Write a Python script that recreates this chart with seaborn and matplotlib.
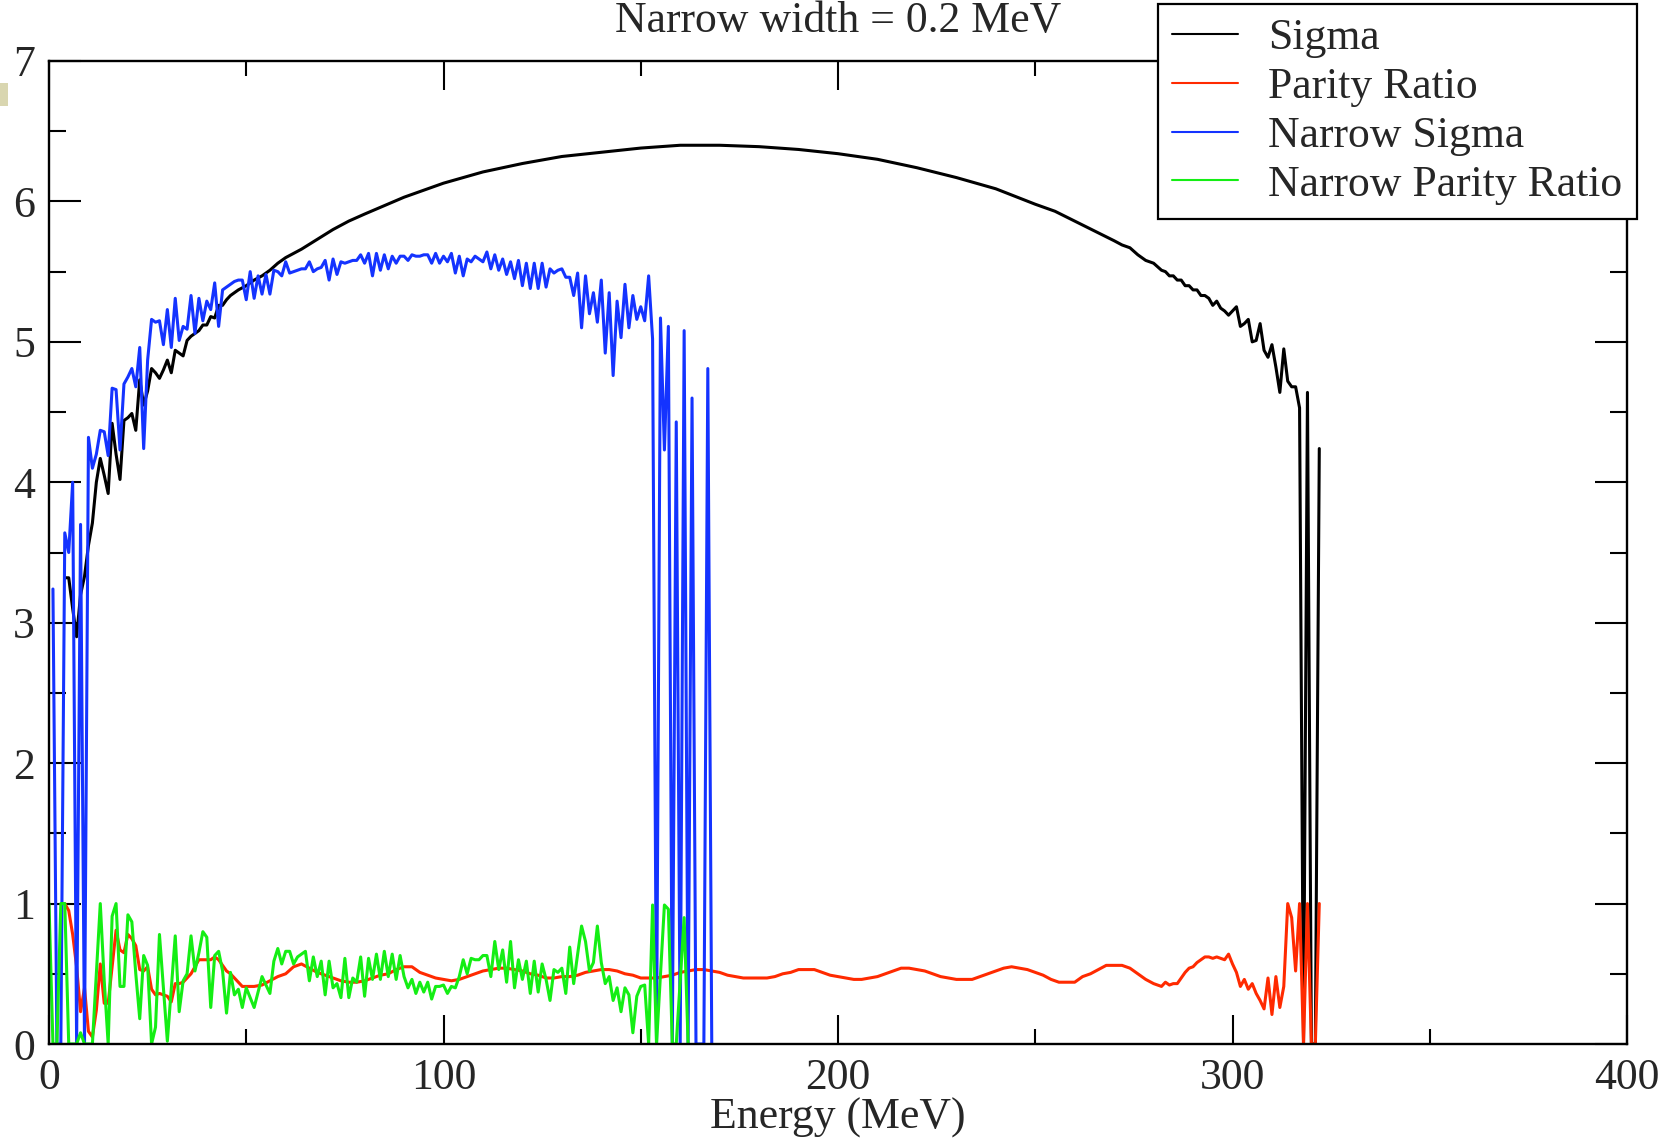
import numpy as np
import pandas as pd
import seaborn as sns
import matplotlib.pyplot as plt
from matplotlib.ticker import MultipleLocator
from matplotlib.patches import Rectangle

# ---- data (energy in MeV) ----
sigma_e = [4, 5, 6, 7, 8, 9, 10, 11, 12, 13, 14, 15, 16, 17, 18, 19, 20, 21, 22, 23,
           24, 25, 26, 27, 28, 29, 30, 31, 32, 33, 34, 35, 36, 37, 38, 39, 40, 41, 42, 43,
           44, 45, 46, 47, 48, 50, 52, 54, 56, 58, 60, 64, 68, 72, 76, 80, 85, 90, 95, 100,
           110, 120, 130, 140, 150, 160, 170, 180, 190, 200, 210, 220, 230, 240, 250, 255,
           260, 265, 270, 272, 274, 276, 278, 280, 282, 283, 284, 285, 286, 287, 288, 289,
           290, 291, 292, 293, 294, 295, 296, 297, 298, 299, 300, 301, 302, 303, 304, 305,
           306, 307, 308, 309, 310, 311, 312, 313, 314, 315, 316, 317, 318, 319, 320, 321, 322]
sigma_v = [3.32, 3.32, 3.10, 2.90, 3.20, 3.33, 3.55, 3.71, 4.00, 4.17, 4.05, 3.92, 4.42, 4.20,
           4.02, 4.44, 4.46, 4.49, 4.37, 4.73, 4.55, 4.65, 4.81, 4.78, 4.74, 4.80, 4.87, 4.78,
           4.94, 4.92, 4.90, 5.01, 5.04, 5.06, 5.08, 5.12, 5.12, 5.18, 5.17, 5.26, 5.26, 5.30,
           5.33, 5.35, 5.37, 5.40, 5.44, 5.47, 5.51, 5.56, 5.60, 5.66, 5.73, 5.80, 5.86, 5.91,
           5.97, 6.03, 6.08, 6.13, 6.21, 6.27, 6.32, 6.35, 6.38, 6.40, 6.40, 6.39, 6.37, 6.34,
           6.30, 6.24, 6.17, 6.09, 5.98, 5.93, 5.86, 5.79, 5.72, 5.69, 5.67, 5.62, 5.58, 5.56,
           5.51, 5.50, 5.47, 5.47, 5.44, 5.44, 5.40, 5.40, 5.37, 5.37, 5.33, 5.33, 5.31, 5.26,
           5.29, 5.24, 5.22, 5.19, 5.22, 5.25, 5.11, 5.13, 5.16, 5.00, 5.01, 5.13, 4.94, 4.89,
           4.98, 4.82, 4.64, 4.95, 4.72, 4.68, 4.68, 4.53, 0.0, 4.64, 0.0, 0.0, 4.24]

parity_e = list(range(4, 50)) + list(range(50, 281, 2)) + list(range(281, 323))
parity_v = [1.0, 0.95, 0.78, 0.55, 0.23, 0.4,
            0.09, 0.05, 0.24, 0.57, 0.29, 0.29, 0.55, 0.81, 0.67, 0.65,
            0.78, 0.75, 0.70, 0.53, 0.52, 0.55, 0.39, 0.35, 0.36, 0.35,
            0.34, 0.30, 0.43, 0.43, 0.44, 0.47, 0.50, 0.55, 0.60, 0.60,
            0.60, 0.60, 0.62, 0.60, 0.56, 0.52, 0.50, 0.47, 0.44, 0.41,
            # 50 .. 280 every 2 MeV
            0.41, 0.41, 0.42, 0.45, 0.48, 0.50, 0.55, 0.57, 0.54, 0.51,
            0.49, 0.47, 0.45, 0.44, 0.44, 0.45, 0.47, 0.49, 0.50, 0.53,
            0.55, 0.55, 0.51, 0.49, 0.47, 0.46, 0.45, 0.46, 0.48, 0.50,
            0.52, 0.53, 0.54, 0.54, 0.53, 0.52, 0.50, 0.49, 0.47, 0.47,
            0.48, 0.48, 0.49, 0.51, 0.52, 0.53, 0.53, 0.52, 0.50, 0.49,
            0.47, 0.47, 0.47, 0.48, 0.49, 0.51, 0.52, 0.53, 0.53, 0.52,
            0.51, 0.49, 0.48, 0.47, 0.47, 0.47, 0.47, 0.48, 0.50, 0.51,
            0.53, 0.53, 0.53, 0.51, 0.49, 0.48, 0.47, 0.46, 0.46, 0.47,
            0.48, 0.50, 0.52, 0.54, 0.54, 0.53, 0.52, 0.50, 0.48, 0.47,
            0.46, 0.46, 0.46, 0.48, 0.50, 0.52, 0.54, 0.55, 0.54, 0.53,
            0.51, 0.49, 0.46, 0.44, 0.44, 0.44, 0.48, 0.50, 0.53, 0.56,
            0.56, 0.56, 0.54, 0.50, 0.46, 0.43,
            # 281 .. 322
            0.42, 0.41, 0.44, 0.42, 0.43, 0.43, 0.47, 0.51, 0.54, 0.55,
            0.58, 0.60, 0.62, 0.62, 0.61, 0.62, 0.61, 0.60, 0.64, 0.57,
            0.51, 0.41, 0.46, 0.39, 0.43, 0.36, 0.31, 0.25, 0.47, 0.21,
            0.48, 0.26, 0.41, 1.00, 0.90, 0.52, 1.00, 0.0, 1.00, 0.0,
            0.0, 1.00]

narrow_sigma_e = list(range(1, 169))
narrow_sigma_v = [3.24, 0.0, 0.0, 3.64, 3.5, 4.0, 0.0, 3.7, 0.0, 4.32,
                  4.1, 4.2, 4.37, 4.36, 4.19, 4.67, 4.66, 4.23, 4.7, 4.75,
                  4.81, 4.68, 4.96, 4.24, 4.87, 5.16, 5.14, 5.15, 4.98, 5.23,
                  4.96, 5.31, 5.01, 5.11, 5.09, 5.33, 5.06, 5.31, 5.15, 5.29,
                  5.23, 5.42, 5.11, 5.37, 5.39, 5.41, 5.43, 5.44, 5.44, 5.3,
                  5.5, 5.31, 5.47, 5.34, 5.48, 5.34, 5.51, 5.5, 5.47, 5.57,
                  5.49, 5.5, 5.51, 5.52, 5.52, 5.57, 5.5, 5.52, 5.53, 5.58,
                  5.44, 5.59, 5.48, 5.57, 5.56, 5.57, 5.58, 5.58, 5.62, 5.56,
                  5.63, 5.47, 5.63, 5.51, 5.62, 5.52, 5.61, 5.56, 5.61, 5.61,
                  5.58, 5.62, 5.61, 5.61, 5.62, 5.62, 5.56, 5.63, 5.56, 5.61,
                  5.57, 5.63, 5.49, 5.61, 5.47, 5.59, 5.57, 5.61, 5.59, 5.57,
                  5.64, 5.52, 5.62, 5.51, 5.59, 5.48, 5.57, 5.45, 5.58, 5.4,
                  5.56, 5.38, 5.56, 5.38, 5.56, 5.39, 5.52, 5.49, 5.51, 5.52,
                  5.46, 5.46, 5.33, 5.49, 5.1, 5.47, 5.2, 5.35, 5.14, 5.44,
                  4.92, 5.35, 4.76, 5.29, 5.03, 5.41, 5.1, 5.33, 5.16, 5.25,
                  5.15, 5.47, 5.02, 0.0, 5.17, 4.23, 5.11, 0.0, 4.43, 0.0,
                  5.08, 0.0, 4.6, 0.0, 0.0, 0.0, 4.81, 0.0]

narrow_parity_e = list(range(0, 163))
narrow_parity_v = [1.0, 0.0, 0.0, 1.0, 1.0, 0.0, 0.0, 0.0, 0.08, 0.0,
                   0.0, 0.0, 0.5, 1.0, 0.45, 0.0, 0.91, 1.0, 0.41, 0.41,
                   0.92, 0.87, 0.5, 0.18, 0.63, 0.56, 0.0, 0.12, 0.78, 0.4,
                   0.02, 0.4, 0.77, 0.23, 0.45, 0.5, 0.77, 0.52, 0.65, 0.8,
                   0.76, 0.26, 0.63, 0.66, 0.52, 0.22, 0.51, 0.35, 0.39, 0.26,
                   0.4, 0.33, 0.26, 0.37, 0.48, 0.42, 0.36, 0.59, 0.68, 0.57,
                   0.66, 0.66, 0.57, 0.62, 0.64, 0.66, 0.45, 0.62, 0.48, 0.59,
                   0.35, 0.59, 0.4, 0.43, 0.33, 0.61, 0.33, 0.47, 0.44, 0.62,
                   0.34, 0.61, 0.46, 0.64, 0.46, 0.66, 0.48, 0.64, 0.46, 0.63,
                   0.48, 0.4, 0.46, 0.36, 0.44, 0.37, 0.44, 0.32, 0.41, 0.41,
                   0.42, 0.36, 0.41, 0.4, 0.48, 0.6, 0.5, 0.61, 0.6, 0.6,
                   0.63, 0.63, 0.48, 0.73, 0.53, 0.67, 0.44, 0.73, 0.4, 0.6,
                   0.46, 0.59, 0.36, 0.59, 0.37, 0.57, 0.46, 0.31, 0.53, 0.51,
                   0.54, 0.36, 0.69, 0.43, 0.64, 0.84, 0.73, 0.52, 0.58, 0.84,
                   0.58, 0.43, 0.48, 0.31, 0.4, 0.23, 0.4, 0.35, 0.08, 0.34,
                   0.41, 0.42, 0.0, 0.99, 0.0, 0.5, 0.99, 0.96, 0.0, 0.0,
                   0.45, 0.9, 0.0]

series_names = ["Sigma", "Parity Ratio", "Narrow Sigma", "Narrow Parity Ratio"]
colors = ["#000000", "#ff2a00", "#1433ff", "#14ee14"]

df = pd.concat([
    pd.DataFrame({"energy": sigma_e, "value": sigma_v, "series": "Sigma"}),
    pd.DataFrame({"energy": parity_e, "value": parity_v, "series": "Parity Ratio"}),
    pd.DataFrame({"energy": narrow_sigma_e, "value": narrow_sigma_v, "series": "Narrow Sigma"}),
    pd.DataFrame({"energy": narrow_parity_e, "value": narrow_parity_v, "series": "Narrow Parity Ratio"}),
], ignore_index=True)

sns.set_style("ticks")
plt.rcParams["font.family"] = ["Liberation Serif", "DejaVu Serif"]

W, H = 1678, 1139
fig = plt.figure(figsize=(W / 100, H / 100), dpi=100)
ax = fig.add_axes([49 / W, 1 - 1044 / H, (1627 - 49) / W, (1044 - 61) / H])

sns.lineplot(data=df, x="energy", y="value", hue="series", hue_order=series_names,
             palette=dict(zip(series_names, colors)), estimator=None, sort=False,
             linewidth=2.2, ax=ax)

ax.set_xlim(0, 400)
ax.set_ylim(0, 7)
ax.xaxis.set_major_locator(MultipleLocator(100))
ax.xaxis.set_minor_locator(MultipleLocator(50))
ax.yaxis.set_major_locator(MultipleLocator(1))
ax.yaxis.set_minor_locator(MultipleLocator(0.5))
ax.tick_params(which="both", direction="in", top=True, right=True, width=1.5,
               color="black", labelsize=31.5, pad=10)
ax.tick_params(axis="x", which="major", length=21)
ax.tick_params(axis="x", which="minor", length=11)
ax.tick_params(axis="y", which="major", length=23)
ax.tick_params(axis="y", which="minor", length=12)
for sp in ax.spines.values():
    sp.set_linewidth(1.7)
    sp.set_color("black")

ax.set_xlabel("Energy (MeV)", fontsize=31.5, labelpad=0)
ax.set_ylabel("")

handles, labels = ax.get_legend_handles_labels()
for h in handles:
    h.set_linewidth(1.5)
leg = ax.legend(handles, labels, loc="upper right",
                bbox_to_anchor=(1637 / W, 1 - 4 / H), bbox_transform=fig.transFigure,
                fontsize=31.5, frameon=True, fancybox=False, framealpha=1,
                edgecolor="black", handlelength=1.5, handletextpad=0.7,
                borderpad=0.33, labelspacing=0.2, borderaxespad=0)
leg.get_frame().set_linewidth(1.6)

fig.text(838 / W, 1 - 21 / H, "Narrow width = 0.2 MeV", ha="center", va="center",
         fontsize=31.5)

# small slide artefact at the left edge
fig.add_artist(Rectangle((0, 1 - 106 / H), 8 / W, 23 / H, transform=fig.transFigure,
                         facecolor="#d9d6b0", edgecolor="none"))

fig.savefig("out.png", dpi=100)
